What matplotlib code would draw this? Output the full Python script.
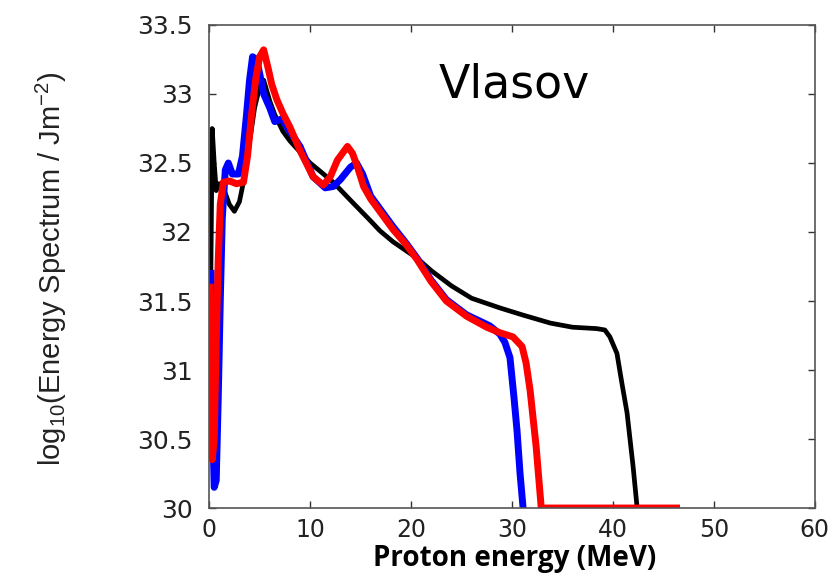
import matplotlib
matplotlib.use("Agg")
import matplotlib.pyplot as plt

# Energy spectra (log10 of energy spectrum vs proton energy in MeV)
black_e = [0.15, 0.3, 0.5, 0.7, 1.0, 1.5, 2.0, 2.5, 3.0, 3.5, 4.0, 4.5, 5.0, 5.4, 6.0,
           6.5, 7.3, 8.0, 9.0, 10.0, 11.0, 12.3, 14.0, 16.0, 16.9, 18.2, 20.6, 22.0,
           24.0, 26.0, 28.8, 31.0, 33.8, 36.0, 38.4, 39.2, 39.7, 40.4, 40.9, 41.4,
           42.0, 42.4]
black_v = [31.55, 32.75, 32.5, 32.3, 32.35, 32.3, 32.2, 32.15, 32.22, 32.4, 32.65, 32.9,
           33.05, 33.1, 32.95, 32.85, 32.73, 32.66, 32.58, 32.5, 32.44, 32.36, 32.23,
           32.08, 32.01, 31.93, 31.81, 31.72, 31.61, 31.52, 31.45, 31.4, 31.34, 31.31,
           31.3, 31.29, 31.24, 31.12, 30.9, 30.69, 30.3, 30.0]

blue_e = [0.2, 0.35, 0.5, 0.7, 0.9, 1.1, 1.3, 1.6, 1.9, 2.3, 2.9, 3.3, 3.7, 4.0, 4.3,
          4.7, 5.0, 5.4, 6.0, 6.5, 7.2, 7.8, 9.0, 10.3, 11.5, 12.3, 13.0, 14.0, 14.6,
          15.2, 16.0, 17.0, 18.2, 19.5, 20.6, 22.0, 23.5, 25.5, 27.8, 28.8, 29.3, 29.8,
          30.2, 30.5, 30.8, 31.1]
blue_v = [31.7, 30.6, 30.15, 30.2, 30.8, 31.5, 32.1, 32.45, 32.5, 32.42, 32.42, 32.55,
          32.85, 33.1, 33.27, 33.25, 33.15, 33.0, 32.9, 32.8, 32.82, 32.75, 32.62, 32.4,
          32.32, 32.33, 32.38, 32.47, 32.5, 32.42, 32.26, 32.16, 32.04, 31.92, 31.81,
          31.65, 31.51, 31.4, 31.32, 31.26, 31.2, 31.09, 30.8, 30.56, 30.25, 30.0]

red_e = [0.1, 0.2, 0.3, 0.5, 0.7, 0.9, 1.1, 1.4, 2.0, 2.7, 3.4, 3.8, 4.2, 4.6, 5.0, 5.4,
         5.8, 6.2, 6.7, 7.3, 8.0, 9.0, 10.3, 11.3, 12.0, 12.7, 13.7, 14.2, 14.7, 15.3,
         16.0, 17.0, 18.2, 19.5, 20.6, 22.0, 23.5, 25.5, 27.5, 28.8, 30.1, 31.0, 31.4,
         31.8, 32.4, 32.9, 46.3]
red_v = [31.6, 30.9, 30.35, 30.5, 31.2, 31.8, 32.2, 32.36, 32.37, 32.35, 32.36, 32.55,
         32.85, 33.1, 33.27, 33.32, 33.2, 33.07, 32.96, 32.86, 32.76, 32.59, 32.4, 32.34,
         32.4, 32.52, 32.62, 32.57, 32.47, 32.33, 32.24, 32.14, 32.02, 31.91, 31.8,
         31.64, 31.5, 31.39, 31.31, 31.27, 31.24, 31.17, 31.05, 30.85, 30.44, 30.0, 30.0]

x_ticks = [0, 10, 20, 30, 40, 50, 60]
x_ticklabels = ["0", "10", "20", "30", "40", "50", "60"]
y_ticks = [30, 30.5, 31, 31.5, 32, 32.5, 33, 33.5]
y_ticklabels = ["30", "30.5", "31", "31.5", "32", "32.5", "33", "33.5"]

fig = plt.figure(figsize=(8.4, 5.73), dpi=100)
ax = fig.add_axes([0.249, 0.1134, 0.721, 0.843])

ax.plot(black_e, black_v, color="black", lw=3.4, solid_joinstyle="round",
        solid_capstyle="butt")
ax.plot(blue_e, blue_v, color="#0000ff", lw=5.0, solid_joinstyle="round")
ax.plot(red_e, red_v, color="#ff0000", lw=5.0, solid_joinstyle="round")

ax.set_xlim(0, 60)
ax.set_ylim(30, 33.5)
ax.set_xticks(x_ticks)
ax.set_xticklabels(x_ticklabels, fontfamily="DejaVu Sans", fontsize=17)
ax.set_yticks(y_ticks)
ax.set_yticklabels(y_ticklabels, fontfamily="DejaVu Sans", fontsize=18)
ax.tick_params(direction="in", length=5, width=1, top=True, right=True,
               colors="#333333", labelcolor="#222222")
ax.tick_params(axis="x", pad=7)
ax.tick_params(axis="y", pad=12)
for s in ax.spines.values():
    s.set_color("#555555")
    s.set_linewidth(1.2)

ax.set_ylabel(r"log$_{\mathregular{10}}$(Energy Spectrum / Jm$^{\mathregular{-2}}$)",
              fontfamily="Liberation Sans", fontsize=21, color="#222222")
ax.yaxis.set_label_coords(-0.232, 0.495)
fig.text(0.6125, 0.013, "Proton energy (MeV)", fontfamily="Open Sans",
         fontweight="bold", fontsize=20, ha="center", va="baseline")
ax.text(0.503, 0.849, "Vlasov", transform=ax.transAxes, fontfamily="DejaVu Sans",
        fontsize=33, ha="center", va="baseline")

fig.savefig("out.png", dpi=100)
